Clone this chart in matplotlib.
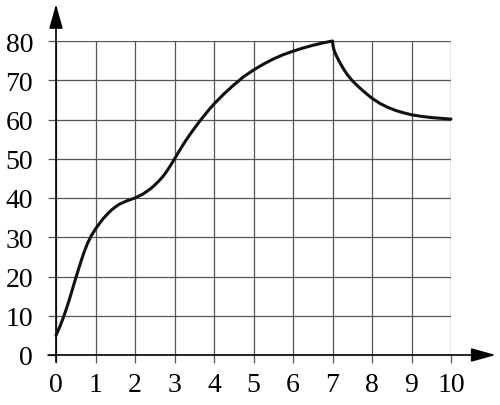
import numpy as np
import matplotlib
matplotlib.use('Agg')
import matplotlib.pyplot as plt

# Curve values (x, y)
x_vals = [0.0, 0.1, 0.2, 0.3, 0.4, 0.5, 0.6, 0.7, 0.8, 0.9, 1.0, 1.1, 1.2, 1.3,
          1.4, 1.5, 1.6, 1.8, 2.0, 2.2, 2.4, 2.5, 2.6, 2.7, 2.8, 2.9, 3.0, 3.1,
          3.2, 3.3, 3.4, 3.5, 3.6, 3.7, 3.8, 3.9, 4.0, 4.25, 4.5, 4.75, 5.0,
          5.25, 5.5, 5.75, 6.0, 6.25, 6.5, 6.75, 7.0,
          7.01, 7.03, 7.06, 7.1, 7.17, 7.26, 7.37, 7.49, 7.62, 7.75, 7.88, 8.0,
          8.2, 8.4, 8.6, 8.8, 9.0, 9.25, 9.5, 9.75, 10.0]
y_vals = [5.0, 7.3, 9.9, 12.9, 16.2, 19.6, 22.8, 25.9, 28.5, 30.5, 32.1, 33.5,
          34.8, 35.9, 36.9, 37.7, 38.4, 39.3, 40.0, 41.0, 42.4, 43.3, 44.3, 45.4,
          46.75, 48.3, 49.95, 51.65, 53.3, 54.85, 56.3, 57.7, 59.05, 60.35, 61.6,
          62.8, 63.95, 66.5, 68.8, 70.9, 72.6, 74.1, 75.4, 76.5, 77.4, 78.2, 78.9,
          79.5, 80.0,
          79.0, 78.0, 77.1, 76.2, 74.8, 73.2, 71.5, 70.0, 68.7, 67.5, 66.4, 65.4,
          64.1, 63.1, 62.3, 61.7, 61.2, 60.8, 60.5, 60.3, 60.1]

x_ticks = list(range(0, 11))
y_ticks = list(range(0, 81, 10))

plt.rcParams['font.family'] = ['Liberation Serif', 'DejaVu Serif']

fig = plt.figure(figsize=(5.0, 4.06), dpi=100)
ax = fig.add_axes([56/500, 50/406, 395/500, 314/406])
ax.set_xlim(0, 10)
ax.set_ylim(0, 80)

for s in ax.spines.values():
    s.set_visible(False)

ax.set_xticks(x_ticks)
ax.set_yticks(y_ticks)
ax.tick_params(axis='both', direction='out', length=5.5, width=0.9,
               color='#555555', labelsize=20)
ax.tick_params(axis='x', pad=7)
ax.tick_params(axis='y', pad=11)
ax.grid(True, color='#555555', linewidth=0.9)
ax.set_axisbelow(True)

# Axes with arrows
arrow = dict(arrowstyle='-|>,head_length=1.5,head_width=0.42', color='black',
             lw=1.2, shrinkA=0, shrinkB=0, mutation_scale=10)
ax.annotate('', xy=(0, 89.4), xytext=(0, -1.8), arrowprops=arrow,
            annotation_clip=False)
ax.annotate('', xy=(11.13, 0), xytext=(-0.2, 0), arrowprops=arrow,
            annotation_clip=False)

ax.plot(x_vals, y_vals, color='#111111', linewidth=2.2, clip_on=False,
        solid_joinstyle='round', solid_capstyle='round', zorder=5)

fig.savefig('out.png', dpi=100)
